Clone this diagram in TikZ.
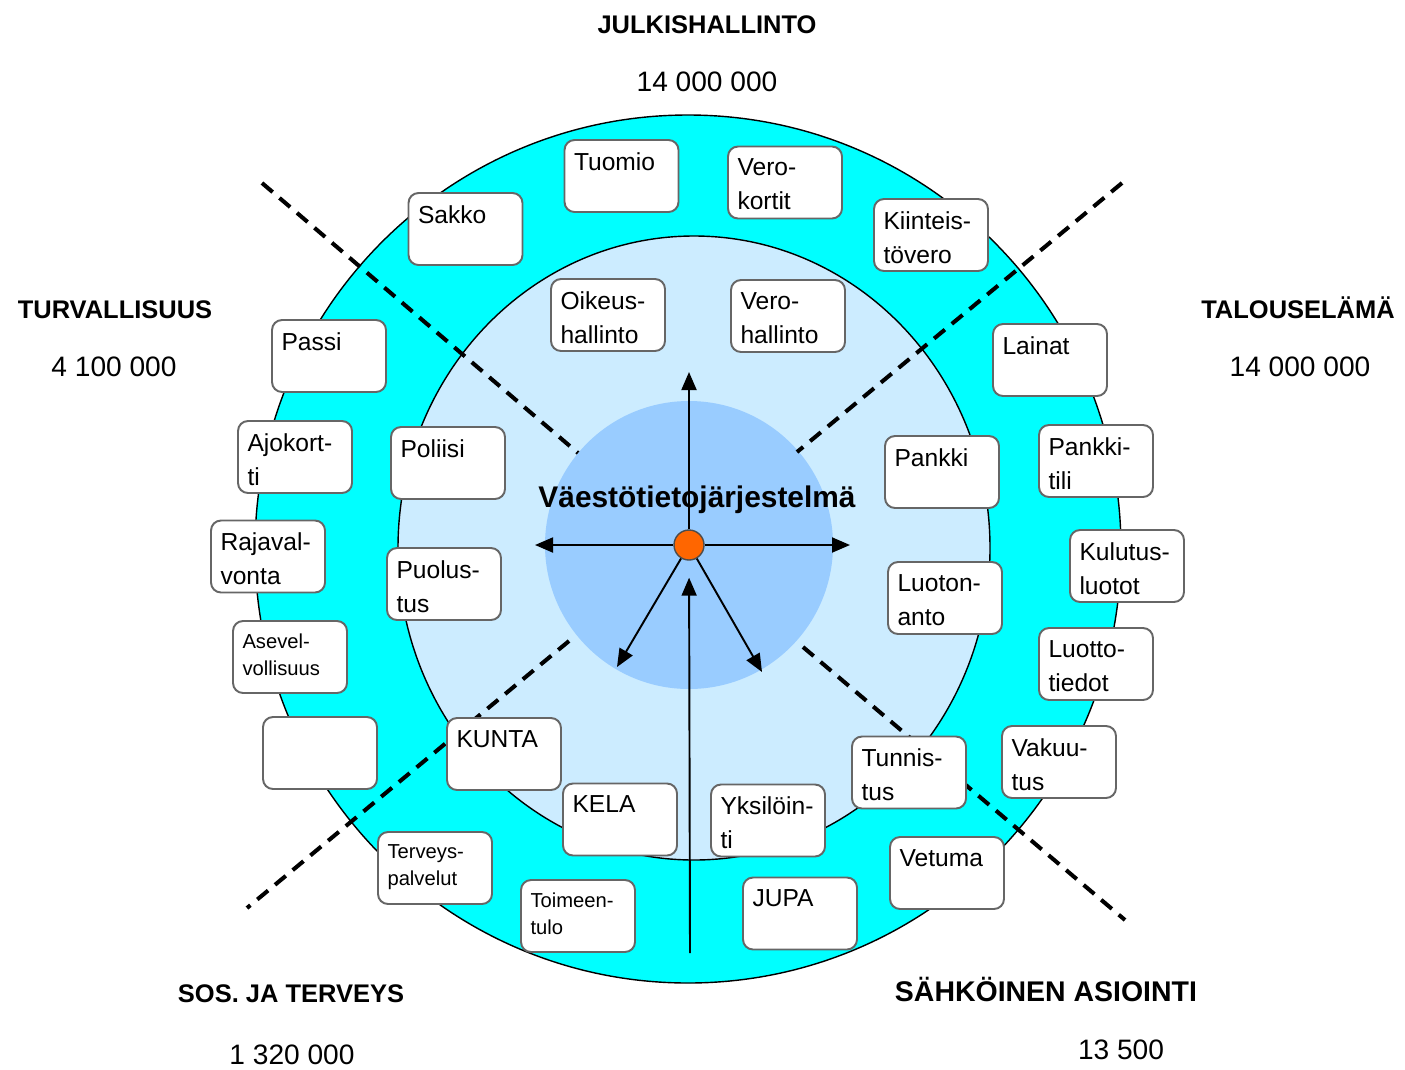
\documentclass[tikz,border=0pt]{standalone}
\usepackage{fontspec}
\setmainfont{Liberation Sans}
\usetikzlibrary{arrows.meta}

\definecolor{ulkorengas}{RGB}{0,255,255}
\definecolor{sisarengas}{RGB}{204,236,255}
\definecolor{ydin}{RGB}{153,204,255}
\definecolor{piste}{RGB}{255,102,0}

\tikzset{
  laatikko/.style={draw=black!60, line width=1.1pt, fill=white, rounded corners=0.2cm,
    minimum width=2.28cm, minimum height=1.44cm,
    inner xsep=0.19cm, inner ysep=0.25cm, font=\fontsize{14}{19.3}\selectfont,
    execute at begin node={\begin{minipage}[t][0.94cm][t]{1.9cm}\raggedright\hyphenpenalty=10000\relax},
    execute at end node={\end{minipage}}},
  pieni/.style={laatikko, font=\fontsize{11.5}{15.5}\selectfont},
  otsikko/.style={anchor=base, font=\fontsize{14.5}{17}\selectfont\bfseries},
  luku/.style={anchor=base, font=\fontsize{16}{19}\selectfont},
  raja/.style={line width=2.3pt, dash pattern=on 0.28cm off 0.18cm},
  nuoli/.style={line width=1.1pt, -{Triangle[length=0.36cm, width=0.3cm]}}
}

\begin{document}
\begin{tikzpicture}[x=0.02cm, y=-0.02cm]
\useasboundingbox (0,0) rectangle (1405,1069);

% renkaat
\filldraw[fill=ulkorengas, draw=black, line width=0.8pt] (688,549) ellipse [x radius=433, y radius=434];
\filldraw[fill=sisarengas, draw=black, line width=0.8pt] (694,548) ellipse [x radius=296, y radius=312];
\fill[ydin] (689,545) circle [radius=144];

% sektorirajat
\coordinate (vy1) at (262,183);
\coordinate (vy2) at (578,453);
\coordinate (oy1) at (1122,183);
\coordinate (oy2) at (797,452);
\coordinate (va1) at (569,641);
\coordinate (va2) at (247,908);
\coordinate (oa1) at (803,647);
\coordinate (oa2) at (1125,920);
\draw[raja] (vy1) -- (vy2);
\draw[raja] (oy1) -- (oy2);
\draw[raja] (va1) -- (va2);
\draw[raja] (oa1) -- (oa2);

% keskus ja nuolet
\node[circle, fill=piste, draw=black!70, line width=0.8pt, minimum size=0.6cm, inner sep=0pt] (vtj) at (689,545) {};
\coordinate (ylos) at (689,372);
\coordinate (vasen) at (535,545);
\coordinate (oikea) at (850,545);
\coordinate (vasala) at (617,667);
\coordinate (oikala) at (762,672);
\coordinate (alas) at (690,953);
\draw[nuoli] (vtj) -- (ylos);
\draw[nuoli] (vtj) -- (vasen);
\draw[nuoli] (vtj) -- (oikea);
\draw[nuoli] (vtj) -- (vasala);
\draw[nuoli] (vtj) -- (oikala);
\draw[nuoli, shorten >=0.34cm] (alas) -- (vtj);
\node[anchor=base, font=\fontsize{17}{20}\selectfont\bfseries] (nimi) at (697,507) {Väestötietojärjestelmä};

% julkishallinto
\node[laatikko] (tuomio) at (621.5,176) {Tuomio};
\node[laatikko] (verokortit) at (785,182.5) {Vero-\\kortit};
\node[laatikko] (sakko) at (465.5,229) {Sakko};
\node[laatikko] (kiinteis) at (931,235) {Kiinteis-\\tövero};
\node[laatikko] (oikeus) at (608,315) {Oikeus-\\hallinto};
\node[laatikko] (verohall) at (788,316) {Vero-\\hallinto};

% turvallisuus
\node[laatikko] (passi) at (329,356) {Passi};
\node[laatikko] (ajokortti) at (295,457) {Ajokort-\\ti};
\node[laatikko] (poliisi) at (448,463) {Poliisi};
\node[laatikko] (rajaval) at (268,556.5) {Rajaval-\\vonta};
\node[laatikko] (puolustus) at (444,584) {Puolus-\\tus};
\node[pieni] (asevel) at (290,657) {Asevel-\\vollisuus};
\node[laatikko] (tyhja) at (320,753) {};

% talouselama
\node[laatikko] (lainat) at (1050,360) {Lainat};
\node[laatikko] (pankki) at (942,472) {Pankki};
\node[laatikko] (pankkitili) at (1096,461) {Pankki-\\tili};
\node[laatikko] (kulutus) at (1127,566) {Kulutus-\\luotot};
\node[laatikko] (luotonanto) at (945,598) {Luoton-\\anto};
\node[laatikko] (luottotiedot) at (1096,664) {Luotto-\\tiedot};
\node[laatikko] (vakuutus) at (1059,762) {Vakuu-\\tus};

% sos. ja terveys
\node[laatikko] (kunta) at (504,754) {KUNTA};
\node[laatikko] (kela) at (620,819.5) {KELA};
\node[pieni] (terveys) at (435,868) {Terveys-\\palvelut};
\node[pieni] (toimeentulo) at (578,916) {Toimeen-\\tulo};

% sahkoinen asiointi
\node[laatikko] (tunnistus) at (909,772.5) {Tunnis-\\tus};
\node[laatikko] (yksilointi) at (768,820.5) {Yksilöin-\\ti};
\node[laatikko] (vetuma) at (947,873) {Vetuma};
\node[laatikko] (jupa) at (800,913.5) {JUPA};

% sektorien otsikot
\node[otsikko] (julkis) at (707,33) {JULKISHALLINTO};
\node[luku] (julkisluku) at (707,91) {14 000 000};
\node[otsikko] (turva) at (115,318) {TURVALLISUUS};
\node[luku] (turvaluku) at (114,376) {4 100 000};
\node[otsikko] (talous) at (1298,318) {TALOUSELÄMÄ};
\node[luku] (talousluku) at (1300,376) {14 000 000};
\node[otsikko] (sosterv) at (291,1002) {SOS. JA TERVEYS};
\node[luku] (sostervluku) at (292,1064) {1 320 000};
\node[otsikko, font=\fontsize{16.2}{19}\selectfont\bfseries] (sahkoinen) at (1046,1001) {SÄHKÖINEN ASIOINTI};
\node[luku] (sahkoinenluku) at (1121,1059) {13 500};
\end{tikzpicture}
\end{document}
